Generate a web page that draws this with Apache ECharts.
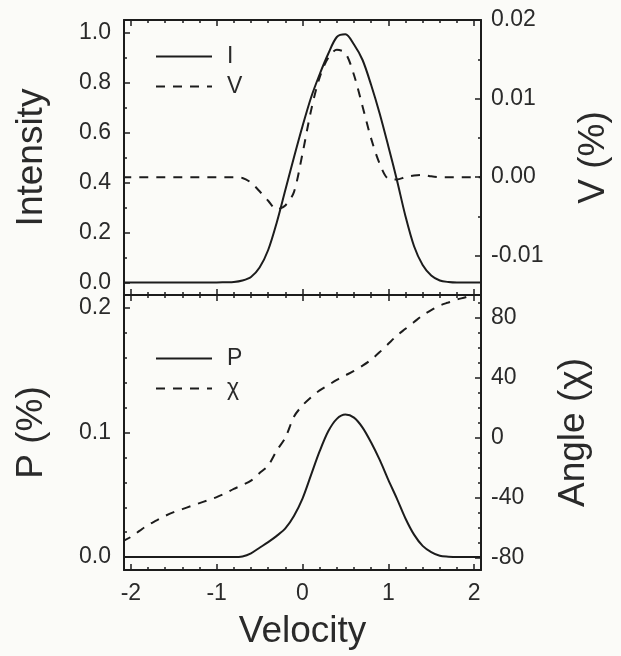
<!DOCTYPE html>
<html>
<head>
<meta charset="utf-8">
<script src="https://cdn.jsdelivr.net/npm/echarts@6/dist/echarts.min.js"></script>
<style>
html, body { margin: 0; padding: 0; background: #fbfbf8; }
#chart { width: 621px; height: 656px; }
</style>
</head>
<body>
<div id="chart"></div>
<script>
// velocity grid shared by both panels
var velocity = [-2.1, -2.0, -1.9, -1.8, -1.7, -1.6, -1.5, -1.4, -1.3, -1.2, -1.1, -1.0, -0.9, -0.8,
  -0.7, -0.6, -0.5, -0.4, -0.3, -0.2, -0.1, 0.0, 0.1, 0.2, 0.3, 0.4, 0.5, 0.6, 0.7, 0.8, 0.9,
  1.0, 1.1, 1.2, 1.3, 1.4, 1.5, 1.6, 1.7, 1.8, 1.9, 2.0, 2.1];

// top panel
var intensityI = [0, 0, 0, 0, 0, 0, 0, 0, 0, 0, 0, 0, 0.001, 0.002,
  0.008, 0.022, 0.06, 0.13, 0.24, 0.37, 0.5, 0.625, 0.74, 0.833, 0.915, 0.982, 0.993, 0.952, 0.89, 0.79, 0.675,
  0.545, 0.41, 0.265, 0.145, 0.07, 0.028, 0.008, 0.002, 0, 0, 0, 0];
var stokesV = [0, 0, 0, 0, 0, 0, 0, 0, 0, 0, 0, 0, 0, 0,
  -0.0001, -0.0007, -0.0018, -0.003, -0.0041, -0.0036, -0.0019, 0.003, 0.0085, 0.0127, 0.0152, 0.0162, 0.0158, 0.013, 0.009, 0.0049, 0.0017,
  -0.0002, -0.0003, 0, 0.0002, 0.0003, 0.0001, 0, 0, 0, 0, 0, 0];

// bottom panel
var polP = [0, 0, 0, 0, 0, 0, 0, 0, 0, 0, 0, 0, 0, 0,
  0.0005, 0.003, 0.0075, 0.012, 0.017, 0.023, 0.033, 0.047, 0.066, 0.085, 0.101, 0.111, 0.1145, 0.112, 0.104, 0.092, 0.078,
  0.062, 0.047, 0.031, 0.018, 0.009, 0.004, 0.001, 0.0003, 0, 0, 0, 0];
var angleChi = [-69, -66, -62, -58, -55, -52, -49.5, -47.5, -45.5, -43.5, -41.5, -39.5, -37, -34,
  -31.5, -28.5, -23.5, -18.5, -8.5, 0, 14, 21.5, 27, 31.5, 35, 38.5, 41.5, 44.5, 48, 52, 57,
  62.5, 68, 72.5, 77, 81.5, 85, 88, 90, 92, 93.5, 95.5, 97];

// ticks
var velocityTicks = [-2, -1, 0, 1, 2];
var velocityMinor = [-1.8, -1.6, -1.4, -1.2, -0.8, -0.6, -0.4, -0.2, 0.2, 0.4, 0.6, 0.8, 1.2, 1.4, 1.6, 1.8];
var intensityTicks = [0, 0.2, 0.4, 0.6, 0.8, 1.0];
var intensityMinor = [0.1, 0.3, 0.5, 0.7, 0.9];
var vTicks = [-0.01, 0, 0.01, 0.02];
var vMinor = [-0.005, 0.005, 0.015];
var pTicks = [0, 0.1, 0.2];
var pMinor = [0.02, 0.04, 0.06, 0.08, 0.12, 0.14, 0.16, 0.18];
var angleTicks = [-80, -40, 0, 40, 80];
var angleMinor = [-70, -60, -50, -30, -20, -10, 10, 20, 30, 50, 60, 70, 90];

var ink = '#1c1c1c';
var textInk = '#2a2a2a';
var font = "'Liberation Sans', Arial, sans-serif";

function pairs(ys) {
  return velocity.map(function (v, i) { return [v, ys[i]]; });
}

// one axis with frame line, long ticks and labels, plus one with only the short ticks
function axisPair(grid, pos, min, max, ticks, minor, fmt, extra) {
  var main = {
    type: 'value', gridIndex: grid, position: pos, min: min, max: max,
    axisLine: { show: true, onZero: false, lineStyle: { color: ink, width: 2 } },
    axisTick: { show: true, inside: true, length: 6, customValues: ticks, lineStyle: { color: ink, width: 1.5 } },
    axisLabel: fmt ? { show: true, customValues: ticks, formatter: fmt, fontSize: 23, color: textInk, fontFamily: font, margin: pos === 'left' ? 13 : 10 } : { show: false },
    splitLine: { show: false }
  };
  for (var k in extra) main[k] = extra[k];
  var small = {
    type: 'value', gridIndex: grid, position: pos, min: min, max: max,
    axisLine: { show: false, onZero: false },
    axisTick: { show: true, inside: true, length: 3, customValues: minor, lineStyle: { color: ink, width: 1.5 } },
    axisLabel: { show: false },
    splitLine: { show: false }
  };
  return [main, small];
}

function nameOf(text, gap) {
  return {
    name: text, nameLocation: 'middle', nameGap: gap, nameRotate: 90,
    nameTextStyle: { fontSize: 37, color: textInk, fontFamily: font }
  };
}

var xMin = -2.08, xMax = 2.08;
var xAxes = [].concat(
  axisPair(0, 'bottom', xMin, xMax, velocityTicks, velocityMinor, null, {}),
  axisPair(0, 'top', xMin, xMax, velocityTicks, velocityMinor, null, {}),
  axisPair(1, 'bottom', xMin, xMax, velocityTicks, velocityMinor, function (v) { return String(Math.round(v)); }, {
    name: 'Velocity', nameLocation: 'middle', nameGap: 43,
    nameTextStyle: { fontSize: 37, color: textInk, fontFamily: font }
  }),
  axisPair(1, 'top', xMin, xMax, velocityTicks, velocityMinor, null, {})
);
xAxes[4].axisLabel.margin = 12;

var yAxes = [].concat(
  axisPair(0, 'left', -0.05, 1.05, intensityTicks, intensityMinor, function (v) { return v.toFixed(1); }, nameOf('Intensity', 74)),
  axisPair(0, 'right', -0.015, 0.02, vTicks, vMinor, function (v) { return v.toFixed(2); }, nameOf('V (%)', 94)),
  axisPair(1, 'left', -0.0104, 0.2105, pTicks, pMinor, function (v) { return v.toFixed(1); }, nameOf('P (%)', 74)),
  axisPair(1, 'right', -88, 95, angleTicks, angleMinor, function (v) { return String(Math.round(v)); }, nameOf('Angle (\u03c7)', 74))
);

function lineSeries(name, x, y, ys, dashed) {
  return {
    name: name, type: 'line', xAxisIndex: x, yAxisIndex: y,
    data: pairs(ys), symbol: 'none', showSymbol: false, smooth: 0.3,
    lineStyle: { color: ink, width: 2, type: dashed ? [9, 8] : 'solid' },
    itemStyle: { color: ink },
    emphasis: { disabled: true }
  };
}

function legendAt(names, top) {
  return {
    data: names, orient: 'vertical', left: 150, top: top,
    itemWidth: 56, itemHeight: 14, itemGap: 7, selectedMode: false,
    itemStyle: { opacity: 0 },
    lineStyle: { opacity: 1 },
    textStyle: { fontSize: 23, color: textInk, fontFamily: font, padding: [0, 0, 0, 10] }
  };
}

var myChart = echarts.init(document.getElementById('chart'));
myChart.setOption({
  backgroundColor: '#fbfbf8',
  animation: false,
  grid: [
    { left: 124, top: 20, width: 357, height: 275, containLabel: false, outerBoundsMode: 'none' },
    { left: 124, top: 295, width: 357, height: 275, containLabel: false, outerBoundsMode: 'none' }
  ],
  legend: [legendAt(['I', 'V'], 40), legendAt(['P', '\u03c7'], 342)],
  xAxis: xAxes,
  yAxis: yAxes,
  series: [
    lineSeries('I', 0, 0, intensityI, false),
    lineSeries('V', 0, 2, stokesV, true),
    lineSeries('P', 4, 4, polP, false),
    lineSeries('\u03c7', 4, 6, angleChi, true)
  ]
});
</script>
</body>
</html>
